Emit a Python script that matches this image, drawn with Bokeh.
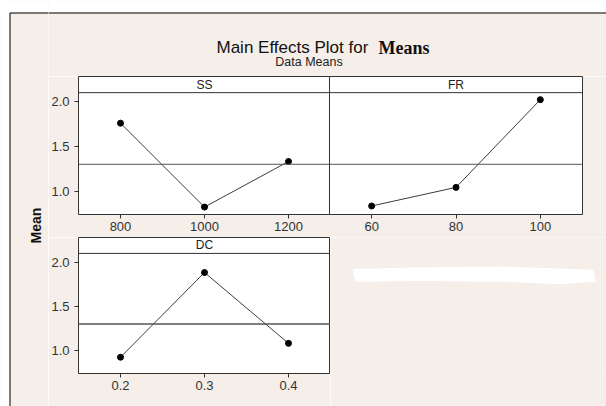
import numpy as np
from bokeh.plotting import figure
from bokeh.models import Range1d, FixedTicker, Span, PrintfTickFormatter
from bokeh.layouts import row, column
from bokeh.core.properties import value
from bokeh.embed import file_html
from bokeh.resources import INLINE

# ---- data ----
title_main = "Main Effects Plot for"
title_bold = "Means"
subtitle = "Data Means"
y_label = "Mean"

ss_name = "SS"
ss_levels = [800, 1000, 1200]
ss_means = [1.76, 0.825, 1.333]

fr_name = "FR"
fr_levels = [60, 80, 100]
fr_means = [0.837, 1.044, 2.022]

dc_name = "DC"
dc_levels = [0.2, 0.3, 0.4]
dc_means = [0.926, 1.884, 1.083]

y_ticks = [1.0, 1.5, 2.0]

# ---- style ----
BEIGE = "#f5eee9"
DARK = "#333333"
SANS = "Liberation Sans"
SERIF = "Liberation Serif"
Y_LO, Y_HEAD, Y_HI = 0.742, 2.1, 2.28

grand_mean = float(np.mean(ss_means + fr_means + dc_means))


def panel(name, levels, means, width, height, left, right, bottom, show_y, mean_w=1.0):
    step = levels[1] - levels[0]
    x_lo, x_hi = levels[0] - step / 2, levels[-1] + step / 2
    p = figure(width=width, height=height,
               x_range=Range1d(x_lo, x_hi), y_range=Range1d(Y_LO, Y_HI),
               output_backend="svg", toolbar_location=None,
               min_border_left=left, min_border_right=right,
               min_border_top=0, min_border_bottom=bottom,
               y_axis_location="left" if show_y else None,
               background_fill_color="white", border_fill_color=BEIGE,
               outline_line_color=DARK, outline_line_width=1)
    p.grid.visible = False
    # header strip
    p.add_layout(Span(location=Y_HEAD, dimension="width", line_color=DARK, line_width=1))
    p.text(x=[(x_lo + x_hi) / 2], y=[(Y_HEAD + Y_HI) / 2], text=[name],
           text_align="center", text_baseline="middle",
           text_font=value(SANS), text_font_size="12px", text_color="#222222")
    # reference mean line
    p.add_layout(Span(location=grand_mean, dimension="width", line_color="#555555", line_width=mean_w))
    p.line(levels, means, line_color="#3c3c3c", line_width=1)
    p.scatter(levels, means, size=6, color="black")
    axes = list(p.xaxis) + (list(p.yaxis) if show_y else [])
    for ax in axes:
        ax.axis_line_color = None
        ax.minor_tick_line_color = None
        ax.major_tick_in = 0
        ax.major_tick_out = 4
        ax.major_tick_line_color = DARK
        ax.major_label_text_font = SANS
        ax.major_label_text_font_size = "13px"
        ax.major_label_text_color = "#333333"
    p.xaxis.ticker = FixedTicker(ticks=levels)
    p.xaxis.major_label_standoff = 3
    if show_y:
        p.yaxis.ticker = FixedTicker(ticks=y_ticks)
        p.yaxis.formatter = PrintfTickFormatter(format="%.1f")
        p.yaxis.major_label_standoff = 5
    return p


def blank(width, height):
    f = figure(width=width, height=height, x_range=Range1d(0, width), y_range=Range1d(height, 0),
               output_backend="svg", toolbar_location=None, min_border=0,
               x_axis_location=None, y_axis_location=None,
               background_fill_color=BEIGE, border_fill_color=BEIGE, outline_line_color=None)
    f.grid.visible = False
    return f


# ---- left strip, full height (page x 0..48) with y label ----
mf = blank(48, 406)
mf.quad(left=[-20, -20], right=[9, 80], top=[-20, -20], bottom=[440, 12],
        fill_color="white", line_color=None)
mf.segment(x0=[9.5, 9.5], y0=[12.5, 12.5], x1=[80, 9.5], y1=[12.5, 440], line_color="black", line_width=1)
mf.text(x=[35], y=[225], text=[y_label], angle=np.pi / 2, text_align="center", text_baseline="middle",
        text_font=value(SANS), text_font_style="bold", text_font_size="14px", text_color="#111111")

# ---- title band (page x 48..606, y 0..76) ----
X0 = 48
tf = blank(558, 76)
tf.quad(left=-20, right=600, top=-20, bottom=12, fill_color="white", line_color=None)
tf.segment(x0=[-20], y0=[12.5], x1=[600], y1=[12.5], line_color="black", line_width=1)
tf.text(x=[216 - X0], y=[47], text=[title_main], text_align="left", text_baseline="alphabetic",
        text_font=value(SANS), text_font_size="17px", text_color="#111111")
tf.text(x=[378 - X0], y=[47], text=[title_bold], text_align="left", text_baseline="alphabetic",
        text_font=value(SERIF), text_font_style="bold", text_font_size="18px", text_color="#111111")
tf.text(x=[308.5 - X0], y=[61.5], text=[subtitle], text_align="center", text_baseline="alphabetic",
        text_font=value(SANS), text_font_size="12.5px", text_color="#222222")

# ---- panels ----
ss = panel(ss_name, ss_levels, ss_means, 282, 161, 29, 0, 23, True)
fr = panel(fr_name, fr_levels, fr_means, 277, 161, 0, 24, 23, False)
fr.margin = (0, 0, 0, -1)
dc = panel(dc_name, dc_levels, dc_means, 282, 169, 29, 0, 33, True, mean_w=1.6)

# ---- empty area (with white smear), page x 330..606, y 237..406 ----
bf = blank(276, 169)
bf.patch(x=[22, 90, 170, 215, 263, 265, 230, 170, 90, 25],
         y=[39, 37, 36, 38, 40, 55, 58, 55, 54, 55],
         fill_color="white", line_color=None)

layout = row(mf, column(tf, row(ss, fr), row(dc, bf)))

html = file_html(layout, INLINE)
html = html.replace("<body>", '<body style="background-color: %s;">' % BEIGE, 1)
open("out.html", "w").write(html)
